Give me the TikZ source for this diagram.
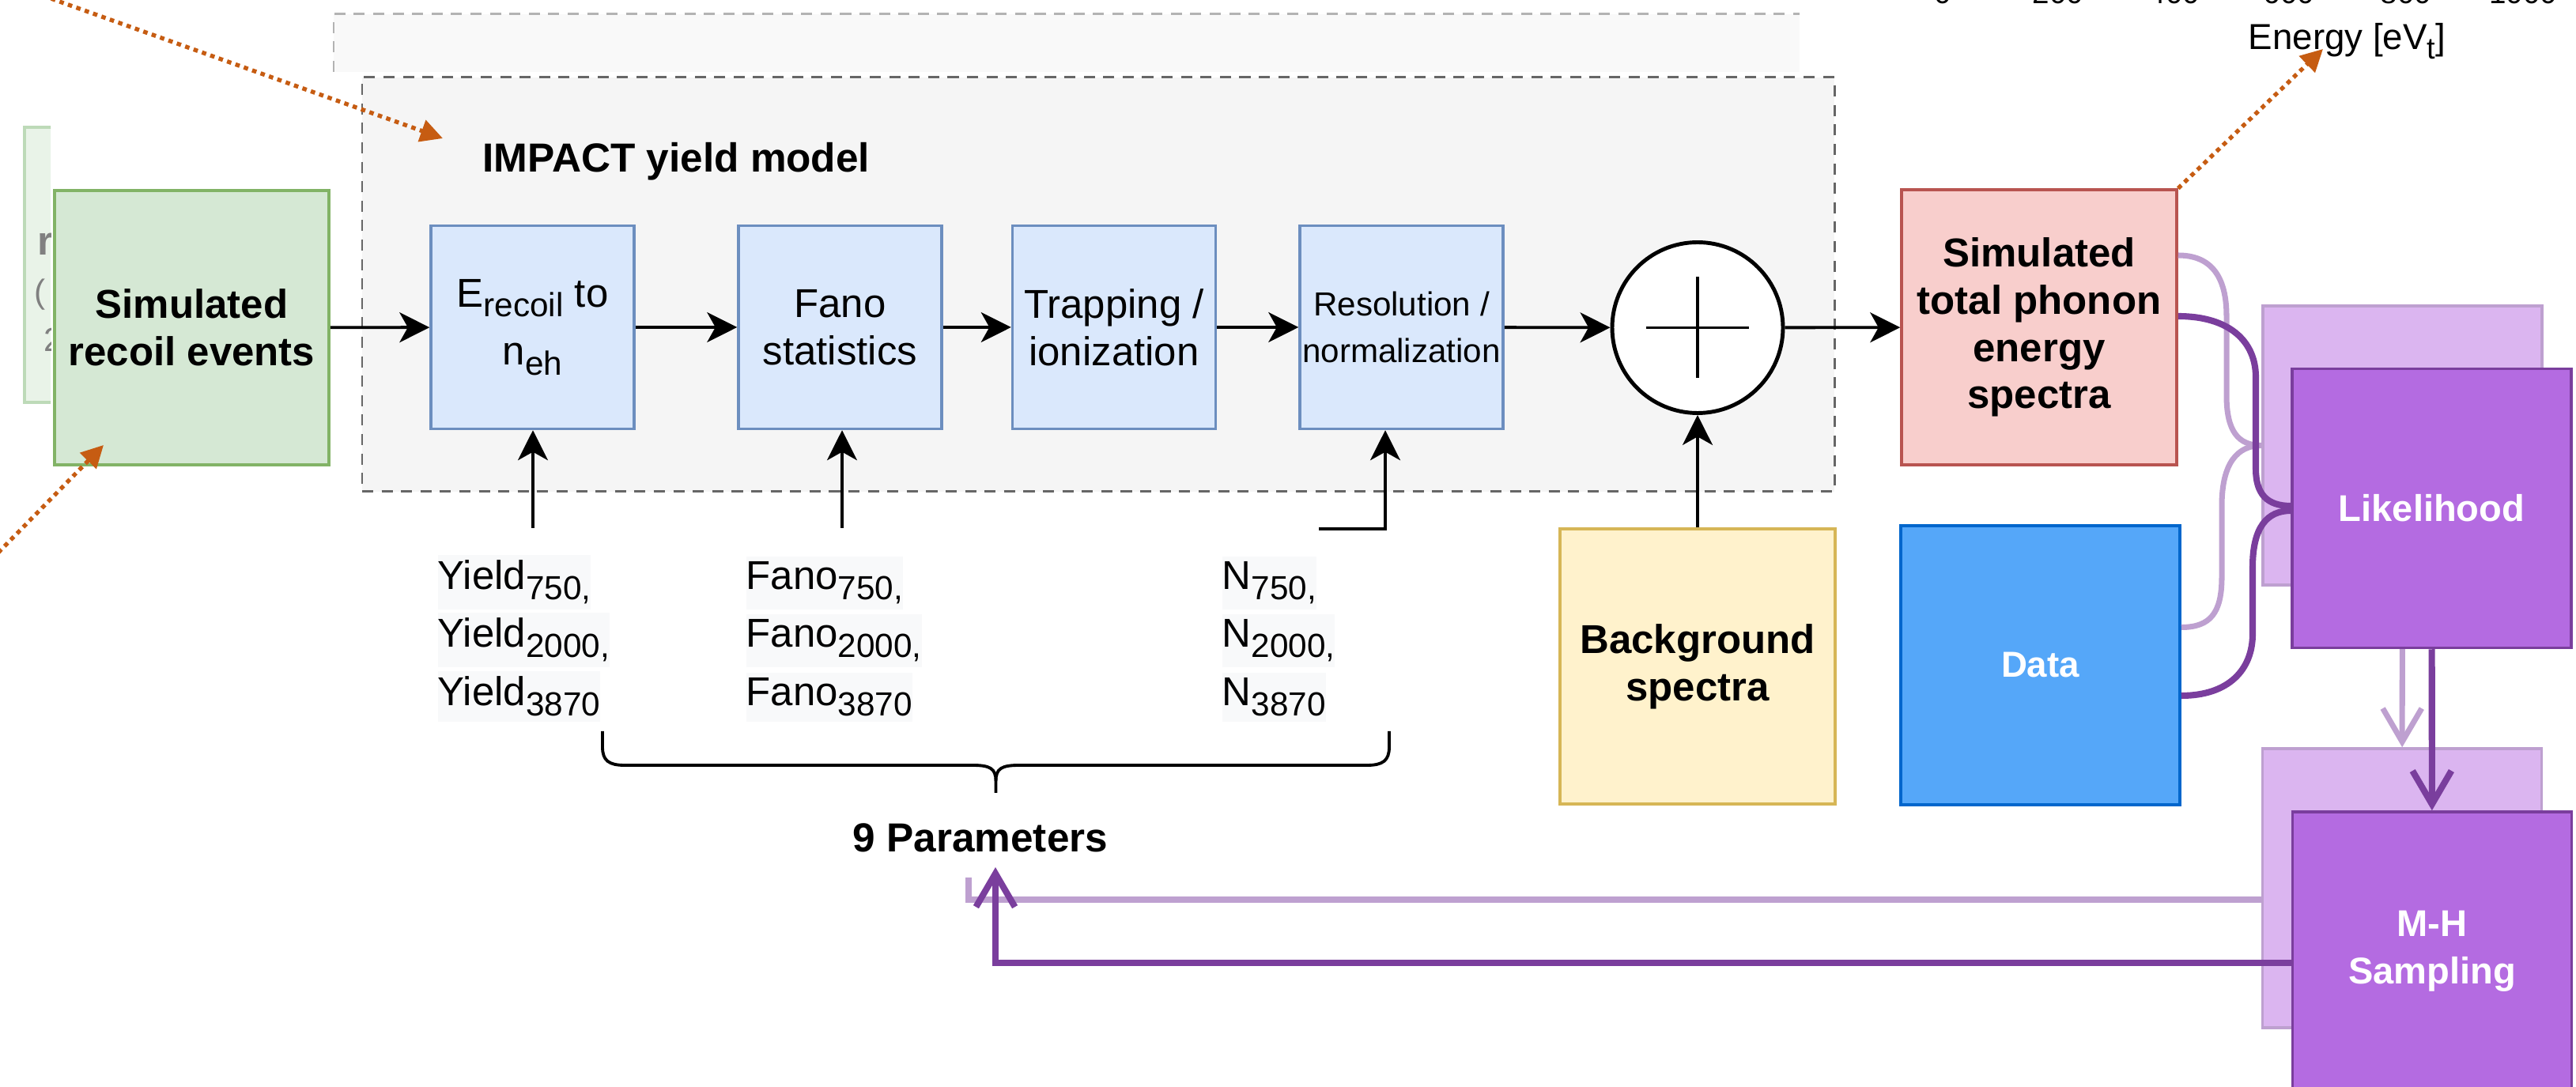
\documentclass[tikz,border=0pt]{standalone}
\usepackage{fontspec}
\setmainfont{Liberation Sans}
\usepackage{tikz}
\usetikzlibrary{arrows.meta,positioning}
\definecolor{recoilfill}{HTML}{D5E8D4}
\definecolor{recoiledge}{HTML}{82B366}
\definecolor{procfill}{HTML}{DAE8FC}
\definecolor{procedge}{HTML}{6C8EBF}
\definecolor{specfill}{HTML}{F8CECC}
\definecolor{specedge}{HTML}{B85450}
\definecolor{bkgfill}{HTML}{FFF2CC}
\definecolor{bkgedge}{HTML}{D6B656}
\definecolor{datafill}{HTML}{55A7F9}
\definecolor{dataedge}{HTML}{0066CC}
\definecolor{mcmcfill}{HTML}{B46BE1}
\definecolor{mcmcedge}{HTML}{7A3E9D}
\definecolor{ghostfill}{HTML}{DBB5F0}
\definecolor{ghostedge}{HTML}{BEA0D0}
\definecolor{hintorange}{HTML}{C65C12}
\definecolor{panelfill}{HTML}{F5F5F5}
\definecolor{paneledge}{HTML}{666666}
\definecolor{oldpanel}{HTML}{F9F9F9}
\definecolor{oldedge}{HTML}{B3B3B3}
\definecolor{oldgreen}{HTML}{E9F3E8}
\definecolor{oldgreenedge}{HTML}{BDDAB8}
\definecolor{paramtint}{HTML}{F8F9FA}
\newcommand{\lowidx}[1]{\raisebox{-0.25em}{\scalebox{0.83}{#1}}}
\tikzstyle{block}=[rectangle, draw=procedge, fill=procfill, line width=1pt,
  minimum width=2.57cm, minimum height=2.57cm, inner sep=0pt, align=center,
  font=\fontsize{14.5}{17}\selectfont]
\tikzstyle{bigbox}=[rectangle, line width=1pt, minimum width=3.48cm,
  minimum height=3.48cm, inner sep=0pt, align=center,
  font=\fontsize{14.5}{17}\selectfont\bfseries]
\tikzstyle{purplebox}=[bigbox, draw=mcmcedge, fill=mcmcfill, text=white,
  minimum width=3.53cm, minimum height=3.53cm,
  font=\fontsize{13.4}{17}\selectfont\bfseries]
\tikzstyle{ghostbox}=[rectangle, draw=ghostedge, fill=ghostfill, line width=1pt,
  minimum width=3.53cm, minimum height=3.53cm]
\tikzstyle{param}=[anchor=base west, fill=paramtint, inner xsep=0pt, inner ysep=2pt,
  font=\fontsize{14.5}{17}\selectfont]
\tikzstyle{arrow}=[-{Stealth[length=10.8pt, width=10.8pt, inset=3pt]}, line width=1.1pt]
\tikzstyle{hint}=[-{Triangle[length=8pt, width=8pt]}, hintorange, line width=1.5pt,
  dash pattern=on 1.6pt off 1.6pt]
\tikzstyle{darkloop}=[mcmcedge, line width=2.3pt]
\tikzstyle{lightloop}=[ghostedge, line width=2pt]
\tikzstyle{openhead}=[-{Straight Barb[length=12pt, width=14pt]}]
\begin{document}
\begin{tikzpicture}
    \useasboundingbox (0,0) rectangle (32.58,-13.75);
    \clip (0,0) rectangle (32.58,-13.75);

    % leftovers of the previous frame
    \fill[oldpanel] (4.22,-0.18) rectangle (22.76,-0.91);
    \draw[oldedge, line width=0.85pt, dash pattern=on 4pt off 3pt] (4.22,-0.91) -- (4.22,-0.18) -- (22.76,-0.18);
    \begin{scope}
      \clip (0.2,-1.4) rectangle (0.64,-5.3);
      \node[rectangle, draw=oldgreenedge, fill=oldgreen, line width=1pt, minimum width=3.47cm,
        minimum height=3.48cm] (oldrecoil) at (2.045,-3.35) {};
      \node[anchor=base west, inner sep=0pt, text=gray, font=\fontsize{14.5}{17}\selectfont\bfseries] (oldr) at (0.47,-3.23) {r};
      \node[anchor=base west, inner sep=0pt, text=gray, font=\fontsize{12}{14}\selectfont] (oldparen) at (0.43,-3.84) {(};
      \node[anchor=base west, inner sep=0pt, text=gray, font=\fontsize{12}{14}\selectfont] (oldtwo) at (0.55,-4.45) {2};
    \end{scope}

    % yield model panel
    \node[rectangle, draw=paneledge, fill=panelfill, line width=0.85pt, dash pattern=on 4pt off 3pt,
      minimum width=18.62cm, minimum height=5.24cm] (impact) at (13.89,-3.60) {};
    \node[anchor=base west, inner sep=0pt, font=\fontsize{14.6}{17}\selectfont\bfseries] (title) at (6.10,-2.18) {IMPACT yield model};

    % main chain
    \node[bigbox, draw=recoiledge, fill=recoilfill, minimum width=3.47cm, minimum height=3.47cm] (recoil) at (2.425,-4.145) {Simulated\\ recoil events};
    \node[block, font=\fontsize{14.5}{21}\selectfont] (conv) at (6.735,-4.14) {E\lowidx{recoil} to\\ n\lowidx{eh}};
    \node[block] (fano) at (10.625,-4.14) {Fano\\ statistics};
    \node[block] (trap) at (14.09,-4.14) {Trapping /\\ ionization};
    \node[block, font=\fontsize{12}{17}\selectfont] (res) at (17.725,-4.14) {Resolution /\\ normalization};
    \node[circle, draw, line width=1.4pt, fill=white, minimum size=2.16cm, inner sep=0pt] (sum) at (21.47,-4.145) {};
    \draw[line width=1.1pt] ([xshift=-6.5mm]sum.center) -- ([xshift=6.5mm]sum.center);
    \draw[line width=1.1pt] ([yshift=-6.4mm]sum.center) -- ([yshift=6.4mm]sum.center);
    \node[bigbox, draw=specedge, fill=specfill] (spec) at (25.79,-4.14) {Simulated\\ total phonon\\ energy\\ spectra};
    \node[bigbox, draw=bkgedge, fill=bkgfill] (bkg) at (21.47,-8.43) {Background\\ spectra};
    \node[bigbox, draw=dataedge, fill=datafill, text=white, minimum width=3.53cm, minimum height=3.53cm,
      font=\fontsize{13}{17}\selectfont\bfseries] (data) at (25.805,-8.415) {Data};

    \draw[arrow] (recoil) -- (conv);
    \draw[arrow] (conv) -- (fano);
    \draw[arrow] (fano) -- (trap);
    \draw[arrow] (trap) -- (res);
    \draw[arrow] (res) -- (sum);
    \draw[arrow] (sum) -- (spec);
    \draw[arrow] (bkg) -- (sum);

    % nuisance parameters
    \node[param] (y1) at (5.53,-7.46) {Yield\lowidx{750,}};
    \node[param] (y2) at (5.53,-8.19) {Yield\lowidx{2000,}};
    \node[param] (y3) at (5.53,-8.93) {Yield\lowidx{3870}};
    \node[param] (f1) at (9.43,-7.46) {Fano\lowidx{750,}};
    \node[param] (f2) at (9.43,-8.19) {Fano\lowidx{2000,}};
    \node[param] (f3) at (9.43,-8.93) {Fano\lowidx{3870}};
    \node[param] (n1) at (15.45,-7.46) {N\lowidx{750,}};
    \node[param] (n2) at (15.45,-8.19) {N\lowidx{2000,}};
    \node[param] (n3) at (15.45,-8.93) {N\lowidx{3870}};
    \coordinate (yin) at (6.74,-6.68);
    \coordinate (fin) at (10.65,-6.68);
    \coordinate (nin) at (16.68,-6.69);
    \draw[arrow] (yin) -- (yin |- conv.south);
    \draw[arrow] (fin) -- (fin |- fano.south);
    \draw[arrow] (nin) -| ([xshift=-2.05mm]res.south);
    \draw[line width=1.1pt] (7.62,-9.25) -- (7.62,-9.45) .. controls (7.62,-9.62) and (7.70,-9.68) .. (7.90,-9.68)
      -- (12.30,-9.68) .. controls (12.52,-9.68) and (12.595,-9.72) .. (12.595,-9.88) -- (12.595,-10.03);
    \draw[line width=1.1pt] (12.595,-9.88) .. controls (12.595,-9.72) and (12.67,-9.68) .. (12.89,-9.68)
      -- (17.29,-9.68) .. controls (17.49,-9.68) and (17.57,-9.62) .. (17.57,-9.45) -- (17.57,-9.25);
    \node[anchor=base, inner sep=0pt, font=\fontsize{14.6}{17}\selectfont\bfseries] (params) at (12.40,-10.78) {9 Parameters};

    % earlier inference frame (faded)
    \node[ghostbox] (likold) at (30.385,-5.635) {};
    \node[ghostbox] (mhold) at (30.38,-11.235) {};
    \coordinate (fbold) at (12.25,-11.10);
    \draw[lightloop] ([yshift=9.1mm]spec.east) .. controls +(0.42,0) and +(0,0.5) .. (28.16,-4.0)
      -- (28.16,-5.0) .. controls +(0,-0.45) and +(-0.3,0) .. (likold.west);
    \draw[lightloop] ([yshift=4.8mm]data.east) .. controls +(0.37,0) and +(0,-0.45) .. (28.10,-7.3)
      -- (28.10,-6.4) .. controls +(0,0.55) and +(-0.3,0) .. (likold.west);
    \draw[lightloop, openhead] (likold) -- (mhold);
    \draw[lightloop] ([yshift=-1.45mm]mhold.west) -| (fbold);

    % inference
    \node[purplebox] (lik) at (30.755,-6.43) {Likelihood};
    \node[purplebox] (mh) at (30.76,-12.035) {M-H\\ Sampling};
    \coordinate (fbtip) at (12.59,-10.97);
    \draw[darkloop] ([yshift=1.4mm]spec.east) .. controls +(0.65,0) and +(0,0.45) .. (28.53,-4.77)
      -- (28.53,-5.93) .. controls +(0,-0.32) and +(-0.3,0) .. ([yshift=0.3mm]lik.west);
    \draw[darkloop] ([yshift=-3.85mm]data.east) .. controls +(0.6,0) and +(0,-0.45) .. (28.49,-8.02)
      -- (28.49,-7.17) .. controls +(0,0.5) and +(-0.3,0) .. ([yshift=-0.3mm]lik.west);
    \draw[darkloop, openhead] (lik) -- (mh);
    \draw[darkloop, openhead] ([yshift=-1.45mm]mh.west) -| (fbtip);

    % plot axis fragment
    \node[anchor=base, inner sep=0pt, font=\fontsize{11}{13}\selectfont] (t0) at (24.57,-0.05) {0};
    \node[anchor=base, inner sep=0pt, font=\fontsize{11}{13}\selectfont] (t200) at (26.03,-0.05) {200};
    \node[anchor=base, inner sep=0pt, font=\fontsize{11}{13}\selectfont] (t400) at (27.50,-0.05) {400};
    \node[anchor=base, inner sep=0pt, font=\fontsize{11}{13}\selectfont] (t600) at (28.95,-0.05) {600};
    \node[anchor=base, inner sep=0pt, font=\fontsize{11}{13}\selectfont] (t800) at (30.43,-0.05) {800};
    \node[anchor=base, inner sep=0pt, font=\fontsize{11}{13}\selectfont] (t1000) at (31.91,-0.05) {1000};
    \node[anchor=base west, inner sep=0pt, font=\fontsize{13}{15}\selectfont] (elabel) at (28.43,-0.63) {Energy [eV\lowidx{t}]};

    % pointers to the zoomed-in views
    \coordinate (hintA) at (-0.2,0.32);
    \coordinate (hintAend) at (5.60,-1.75);
    \coordinate (hintB) at (-0.1,-7.07);
    \coordinate (hintBend) at (1.31,-5.63);
    \coordinate (hintCend) at (29.38,-0.62);
    \draw[hint] (hintA) -- (hintAend);
    \draw[hint] (hintB) -- (hintBend);
    \draw[hint] (spec.north east) -- (hintCend);

\end{tikzpicture}
\end{document}
